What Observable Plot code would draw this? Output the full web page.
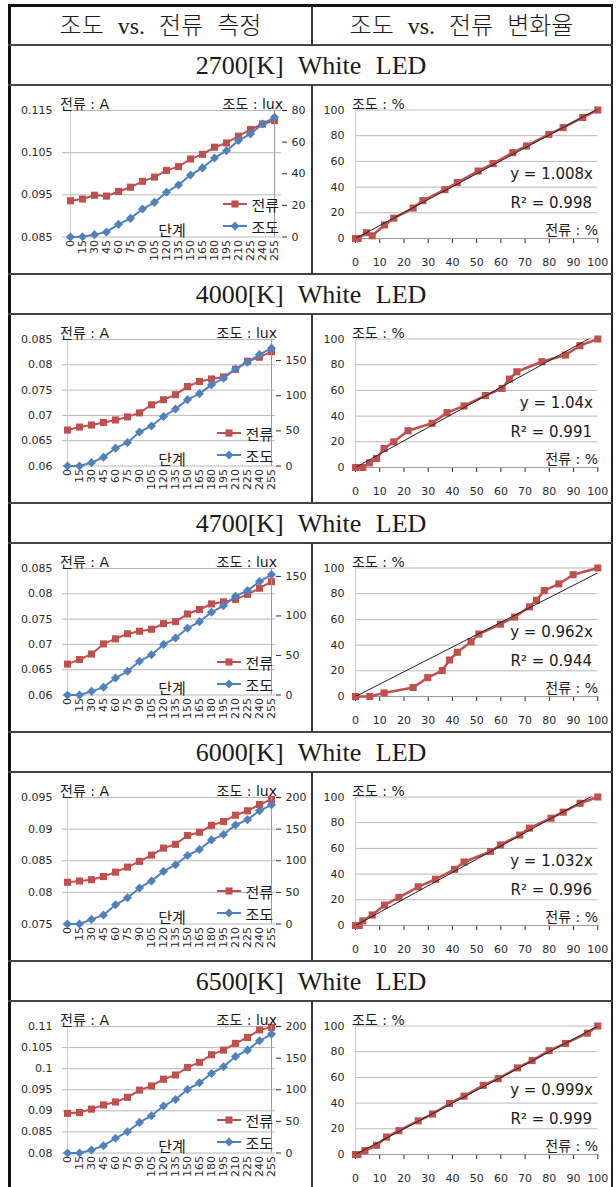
<!DOCTYPE html>
<html><head><meta charset="utf-8">
<script src="https://cdn.jsdelivr.net/npm/d3@7"></script>
<script src="https://cdn.jsdelivr.net/npm/@observablehq/plot@0.6"></script>
<style>
body{margin:0;background:#fff;}
#page{position:relative;width:616px;height:1187px;overflow:hidden;background:#fff;}
.ln{position:absolute;}
.txt{position:absolute;white-space:nowrap;line-height:1;}
</style></head><body><div id="page"></div>
<script>
// ---------- data ----------
const headers = ["조도 vs. 전류 측정", "조도 vs. 전류 변화율"];
const titles = ["2700[K] White LED", "4000[K] White LED", "4700[K] White LED", "6000[K] White LED", "6500[K] White LED"];
const seriesNames = ["전류", "조도"];
const leftAxisTitles = ["전류 : A", "조도 : lux", "단계"];
const rightAxisTitles = ["조도 : %", "전류 : %"];
const steps = [0,15,30,45,60,75,90,105,120,135,150,165,180,195,210,225,240,255];

const current2700 = [0.0936,0.0940,0.0949,0.0947,0.0958,0.0968,0.0982,0.0992,0.1008,0.1017,0.1035,0.1046,0.1063,0.1073,0.1089,0.1105,0.1118,0.1126];
const lux2700 = [0,0.2,1.5,3.2,8,11.8,17.7,21.9,28.3,32.9,39.2,43.7,50,54.6,61,65.2,71.5,75.7];
const current4000 = [0.0671,0.0677,0.0681,0.0686,0.0691,0.0697,0.0705,0.0721,0.0731,0.0741,0.0757,0.0767,0.0772,0.0776,0.0791,0.0807,0.0815,0.0826];
const lux4000 = [0,0,4.8,12.5,25.4,33.5,48.4,57,70.4,81,94.4,103,115.5,125,138,147.6,158.6,167.7];
const current4700 = [0.0661,0.0670,0.0681,0.0701,0.0711,0.0721,0.0726,0.0730,0.0741,0.0745,0.0760,0.0769,0.0780,0.0784,0.0789,0.0799,0.0811,0.0824];
const lux4700 = [0,0,4.6,9.7,21.5,30,42.6,51,64,72,84.4,92.8,104.6,113,125,132,143.5,152.3];
const current6000 = [0.0816,0.0818,0.0820,0.0825,0.0832,0.0840,0.0849,0.0859,0.0870,0.0876,0.0890,0.0895,0.0906,0.0912,0.0922,0.0929,0.0939,0.0947];
const lux6000 = [0,0,7.3,14.1,30.4,41.4,57,68,83.2,93.7,108.4,117.8,133,141.4,156.5,165,179,188.5];
const current6500 = [0.0894,0.0896,0.0904,0.0914,0.0921,0.0932,0.0949,0.0959,0.0975,0.0985,0.1003,0.1015,0.1033,0.1044,0.1060,0.1074,0.1092,0.1098];
const lux6500 = [0,0,4.7,11.6,23.2,33.7,48.4,59,74.2,84.7,100.5,111,125.8,136.3,152.6,162.6,177.4,188];

const pctX2700 = [0,1.1,4.5,6.9,12,15.8,23.8,27.8,36.9,42,50.6,56.8,64.9,70.6,79.8,85.7,93.8,100];
const pctY2700 = [0,0,4.5,2.1,10.6,15.8,23.7,29.5,38,43.5,52.5,58.3,66.8,72,81,86.3,94.2,100];
const pctX4000 = [0,3,5.8,8.7,11.8,15.8,21.7,31.6,37.8,44.8,53.6,60.5,63.5,66.6,76.9,86.7,92.6,100];
const pctY4000 = [0,0,3.6,7,14.8,20,28.6,34.4,42.7,47.9,56,61.5,68.8,74.5,82.3,87.5,94.8,100];
const pctX4700 = [0,5.9,11.8,23.8,29.8,35.8,38.8,42,47.7,50.9,59.8,65.7,71.8,74.7,77.9,83.9,89.8,100];
const pctY4700 = [0,0,2.8,7,14.7,20.2,28.4,34.4,42.6,48.6,56.3,61.8,69.8,74.9,82.4,87.6,94.8,100];
const pctX6000 = [0,1.5,3,6.9,12,17.9,25.9,33,40.9,44.8,55.7,59.8,67.8,71.8,80.7,85.7,92.7,100];
const pctY6000 = [0,0,3.6,8.2,15.9,21.9,30.1,36,43.7,49.4,57.6,62.7,70.4,75.8,83.5,88.2,95.1,100];
const pctX6500 = [0,1,3.9,8.7,12.8,17.9,25.9,31.8,38.8,44.8,52.7,58.9,66.9,72.9,79.9,86.7,95.7,100];
const pctY6500 = [0,0,3.1,7.2,13.6,18.5,26.2,31.5,39.7,45.4,53.8,59,67.4,73.1,80.8,86.4,94.4,100];

const slopes = [1.008, 1.04, 0.962, 1.032, 0.999];
const rSquared = [0.998, 0.991, 0.944, 0.996, 0.999];

const currentTicks2700 = [0.085,0.095,0.105,0.115];
const currentTicks4000 = [0.06,0.065,0.07,0.075,0.08,0.085];
const currentTicks4700 = [0.06,0.065,0.07,0.075,0.08,0.085];
const currentTicks6000 = [0.075,0.08,0.085,0.09,0.095];
const currentTicks6500 = [0.08,0.085,0.09,0.095,0.1,0.105,0.11];
const luxTicks2700 = [0,20,40,60,80];
const luxTicks4000 = [0,50,100,150];
const luxTicks4700 = [0,50,100,150];
const luxTicks6000 = [0,50,100,150,200];
const luxTicks6500 = [0,50,100,150,200];
const luxMax = [80,180,160,200,200];
const pctTicksX = [0,10,20,30,40,50,60,70,80,90,100];
const pctTicksY = [0,20,40,60,80,100];

const panels = [
  {cur: current2700, lux: lux2700, px: pctX2700, py: pctY2700, ct: currentTicks2700, lt: luxTicks2700},
  {cur: current4000, lux: lux4000, px: pctX4000, py: pctY4000, ct: currentTicks4000, lt: luxTicks4000},
  {cur: current4700, lux: lux4700, px: pctX4700, py: pctY4700, ct: currentTicks4700, lt: luxTicks4700},
  {cur: current6000, lux: lux6000, px: pctX6000, py: pctY6000, ct: currentTicks6000, lt: luxTicks6000},
  {cur: current6500, lux: lux6500, px: pctX6500, py: pctY6500, ct: currentTicks6500, lt: luxTicks6500}
].map((p, i) => ({...p, title: titles[i], slope: slopes[i], r2: rSquared[i], lmax: luxMax[i]}));

// ---------- style ----------
const RED = "#c0504d", BLUE = "#4f81bd", GRID = "#b8b8b8";
const SANS = "'DejaVu Sans', 'Noto Sans CJK KR', sans-serif";
const KR = "'Noto Sans CJK KR', sans-serif";
const SERIF = "'Liberation Serif', 'Noto Sans CJK KR', serif";
const page = document.getElementById("page");

const squareSym = {draw(ctx, size) { const h = Math.sqrt(size) / 2; ctx.rect(-h, -h, 2 * h, 2 * h); }};
const diamondSym = {draw(ctx, size) { const h = Math.sqrt(size) * 0.64; ctx.moveTo(0, -h); ctx.lineTo(h, 0); ctx.lineTo(0, h); ctx.lineTo(-h, 0); ctx.closePath(); }};

function rect(x, y, w, h, color) {
  const d = document.createElement("div");
  d.className = "ln";
  Object.assign(d.style, {left: x + "px", top: y + "px", width: w + "px", height: h + "px", background: color});
  page.appendChild(d);
}
function txt(s, x, y, {anchor = "start", size = 14, family = SANS, color = "#1a1a1a", ws = 0, weight = 400} = {}) {
  const d = document.createElement("div");
  d.className = "txt";
  d.textContent = s;
  Object.assign(d.style, {left: x + "px", top: y + "px", fontSize: size + "px", fontFamily: family, color, fontWeight: weight});
  if (ws) d.style.wordSpacing = ws + "px";
  const tx = anchor === "middle" ? "-50%" : anchor === "end" ? "-100%" : "0";
  d.style.transform = `translate(${tx},-50%)`;
  page.appendChild(d);
  return d;
}
function place(svg, x, y) {
  svg.style.position = "absolute";
  svg.style.left = x + "px";
  svg.style.top = y + "px";
  page.appendChild(svg);
}
function legendSample(x, y, color, sym, r) {
  const w = 24, h = 12;
  const svg = d3.create("svg").attr("width", w).attr("height", h)
    .style("position", "absolute").style("left", x + "px").style("top", (y - h / 2) + "px").style("overflow", "visible");
  svg.append("line").attr("x1", 0).attr("x2", w).attr("y1", h / 2).attr("y2", h / 2).attr("stroke", color).attr("stroke-width", 2);
  svg.append("path").attr("transform", `translate(${w / 2},${h / 2})`).attr("fill", color)
    .attr("d", d3.symbol({draw: sym.draw}, Math.PI * r * r)());
  page.appendChild(svg.node());
}

const plotStyle = {background: "transparent", overflow: "visible", fontFamily: SANS, fontSize: "11px", color: "#2a2a2a"};

// ---------- table frame ----------
const ROW0 = 45, ROWH = 229, TITLEH = 40, CHARTH = 189, MID = 311;
rect(8, 4, 605, 3, "#111");
rect(8, 4, 3, 1183, "#111");
rect(611, 4, 2, 1183, "#222");
rect(MID, 6, 1.5, ROW0 - 6, "#333");
rect(8, ROW0 - 1, 605, 2, "#444");
txt(headers[0], (10 + MID) / 2, 26, {anchor: "middle", size: 24, family: SERIF, ws: 8, weight: 300});
txt(headers[1], (MID + 612) / 2, 26, {anchor: "middle", size: 24, family: SERIF, ws: 8, weight: 300});

panels.forEach((p, i) => {
  const T = ROW0 + i * ROWH, C = T + TITLEH;
  if (i > 0) rect(8, T - 1, 605, 2, "#444");
  rect(8, C - 1, 605, 2, "#444");
  rect(MID, C, 1.5, CHARTH, "#333");
  txt(p.title, 311, T + 21, {anchor: "middle", size: 26, family: SERIF, ws: 8});

  // ---- left: dual-axis line chart ----
  const data = steps.map((s, k) => ({step: s, cur: p.cur[k], lux: p.lux[k]}));
  const mr = p.lt.some(t => String(t).length > 2) ? 37 : 31;
  const frameRight = 312 - mr;
  const common = {width: 312, height: CHARTH, marginLeft: 62, marginRight: mr, marginTop: 25, marginBottom: 37.5, style: plotStyle};
  const a = Plot.plot({
    ...common,
    x: {type: "point", domain: steps, padding: 0, tickRotate: -90, tickSize: 0, tickPadding: 3, label: null},
    y: {domain: [p.ct[0], p.ct[p.ct.length - 1]], ticks: p.ct, tickSize: 0, tickPadding: 10, label: null,
        tickFormat: d => String(+d.toFixed(3))},
    marks: [
      Plot.ruleY(p.ct, {stroke: GRID, strokeWidth: 1}),
      Plot.ruleX([steps[0]], {stroke: "#cfcfcf", strokeWidth: 1}),
      Plot.line(data, {x: "step", y: "cur", stroke: RED, strokeWidth: 2}),
      Plot.dot(data, {x: "step", y: "cur", symbol: squareSym, r: 4, fill: RED, stroke: null})
    ]
  });
  place(a, 0, C);
  const b = Plot.plot({
    ...common,
    x: {type: "point", domain: steps, padding: 0, axis: null},
    y: {domain: [0, p.lmax], axis: "right", ticks: p.lt, tickSize: 5, tickPadding: 5, label: null},
    marks: [
      Plot.ruleX([steps[steps.length - 1]], {stroke: "#9a9a9a", strokeWidth: 1}),
      Plot.line(data, {x: "step", y: "lux", stroke: BLUE, strokeWidth: 2}),
      Plot.dot(data, {x: "step", y: "lux", symbol: diamondSym, r: 4, fill: BLUE, stroke: null})
    ]
  });
  place(b, 0, C);
  txt(leftAxisTitles[0], 60, C + 18.5, {size: 14});
  txt(leftAxisTitles[1], frameRight + 2, C + 18.5, {size: 14, anchor: "end"});
  txt(leftAxisTitles[2], 172, C + 144, {size: 15, family: KR, anchor: "middle"});
  legendSample(frameRight - 58, C + 118.5, RED, squareSym, 4);
  legendSample(frameRight - 58, C + 140.5, BLUE, diamondSym, 4);
  txt(seriesNames[0], frameRight - 2, C + 118.5, {size: 15, family: KR, anchor: "end"});
  txt(seriesNames[1], frameRight - 2, C + 140.5, {size: 15, family: KR, anchor: "end"});

  // ---- right: percentage change scatter ----
  const pts = p.px.map((x, k) => ({x, y: p.py[k]}));
  const fit = [pctTicksX[0], pctTicksX[pctTicksX.length - 1]].map(x => ({x, y: p.slope * x}));
  const r = Plot.plot({
    width: 300, height: CHARTH, marginLeft: 43, marginRight: 14.7, marginTop: 24.5, marginBottom: 36, style: plotStyle,
    x: {domain: [0, 100], ticks: pctTicksX, tickSize: 5, tickPadding: 15, label: null},
    y: {domain: [0, 100], ticks: pctTicksY, tickSize: 0, tickPadding: 11, label: null},
    marks: [
      Plot.ruleY(pctTicksY.filter(t => t > 0), {stroke: GRID, strokeWidth: 1}),
      Plot.ruleX([0], {stroke: "#cfcfcf", strokeWidth: 1}),
      Plot.ruleY([0], {stroke: "#9a9a9a", strokeWidth: 1}),
      Plot.line(pts, {x: "x", y: "y", stroke: RED, strokeWidth: 2.5}),
      Plot.dot(pts, {x: "x", y: "y", symbol: squareSym, r: 4, fill: RED, stroke: null}),
      Plot.line(fit, {x: "x", y: "y", stroke: "#222", strokeWidth: 1, clip: true})
    ]
  });
  place(r, 312, C);
  txt(rightAxisTitles[0], 352, C + 19, {size: 14});
  txt(`y = ${p.slope}x`, 593, C + 89, {size: 15, anchor: "end"});
  txt(`R² = ${p.r2}`, 592, C + 118, {size: 15, anchor: "end"});
  txt(rightAxisTitles[1], 598, C + 145, {size: 14, anchor: "end"});
});
</script></body></html>
